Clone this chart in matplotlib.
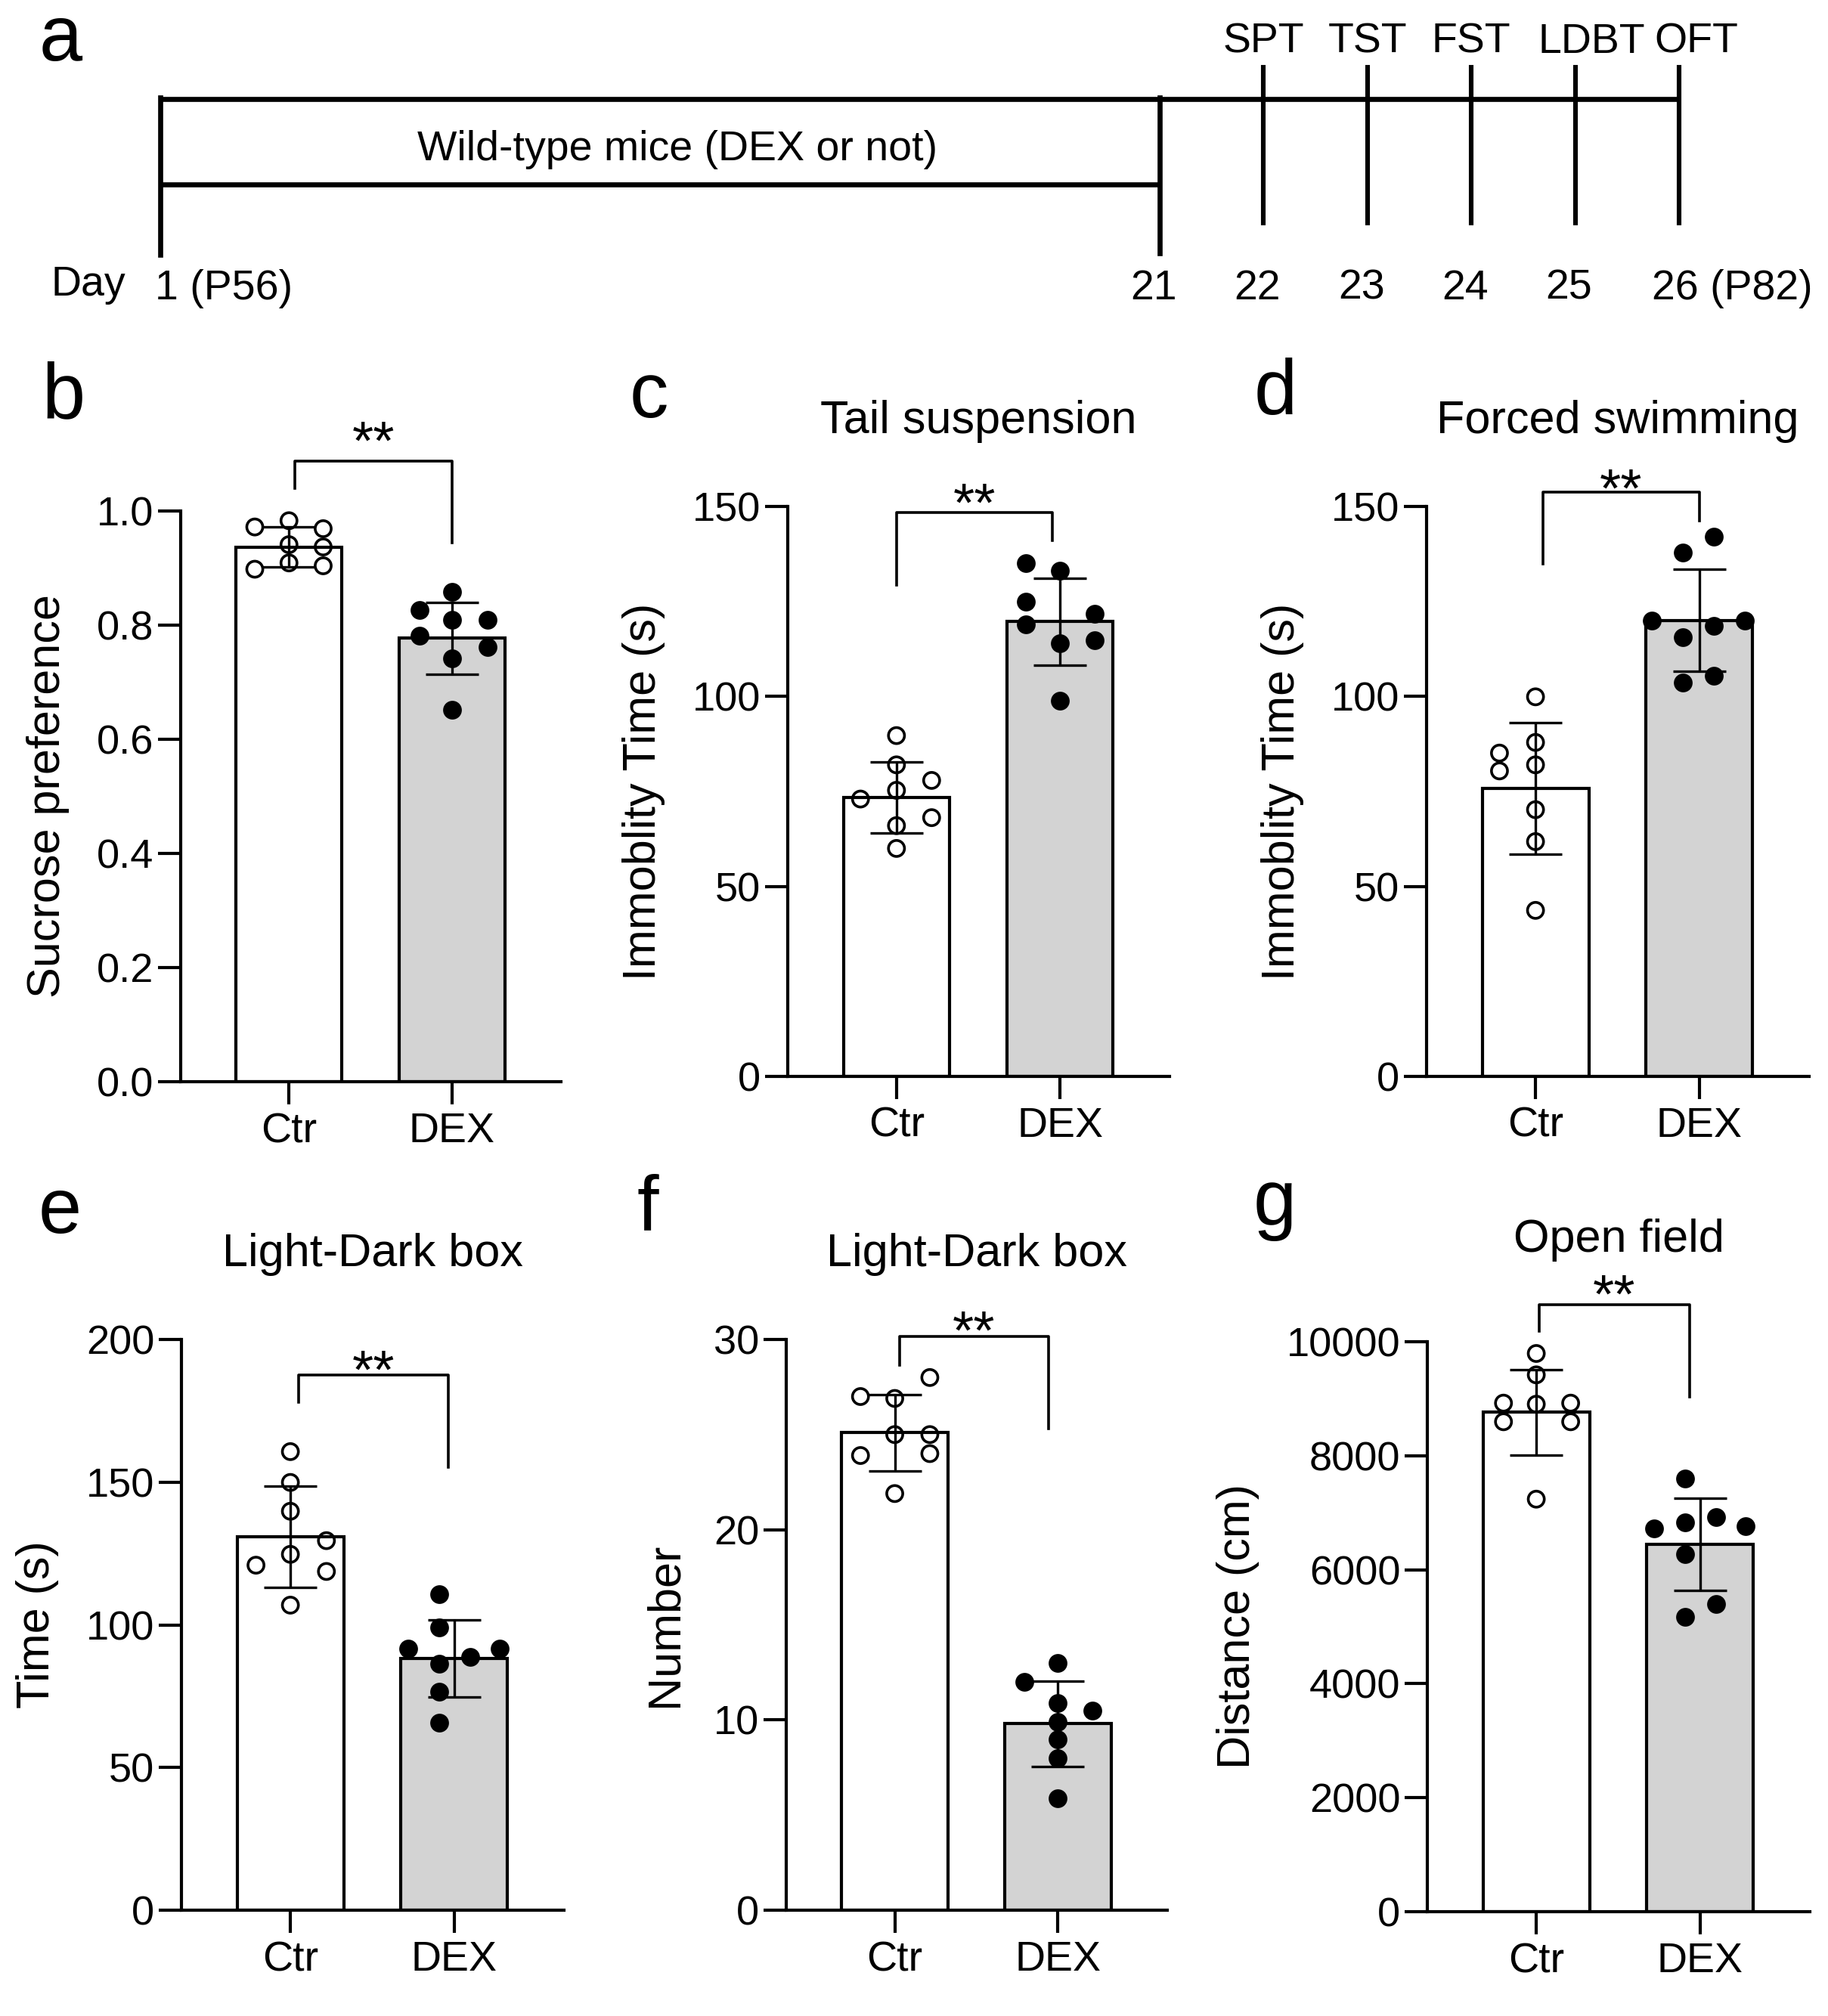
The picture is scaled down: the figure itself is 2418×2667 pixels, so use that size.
import numpy as np
import matplotlib
matplotlib.use("Agg")
import matplotlib.pyplot as plt

plt.rcParams['font.family'] = ['Liberation Sans', 'DejaVu Sans']

groups = ["Ctr", "DEX"]

# b  sucrose preference test
spt_ctr = [0.972, 0.983, 0.969, 0.941, 0.937, 0.898, 0.909, 0.904]
spt_dex = [0.858, 0.827, 0.809, 0.809, 0.782, 0.762, 0.742, 0.651]
spt_mean = [0.937, 0.777]
spt_sd = [0.035, 0.063]

# c  tail suspension
tst_ctr = [89.7, 82.0, 77.9, 73.0, 75.3, 68.1, 66.0, 60.0]
tst_dex = [135.1, 133.0, 125.0, 119.0, 121.8, 114.8, 113.9, 98.8]
tst_mean = [73.4, 119.7]
tst_sd = [9.4, 11.5]

# d  forced swimming
fst_ctr = [99.9, 85.1, 87.9, 80.4, 82.0, 70.2, 61.8, 43.7]
fst_dex = [142.0, 137.9, 120.0, 120.0, 118.6, 115.5, 103.7, 105.5]
fst_mean = [75.8, 120.0]
fst_sd = [17.4, 13.4]

# e  light-dark box, time
ldt_ctr = [160.7, 149.9, 139.8, 129.5, 124.7, 120.9, 118.7, 106.9]
ldt_dex = [110.8, 99.1, 91.6, 91.6, 88.8, 86.4, 76.6, 65.8]
ldt_mean = [130.8, 88.2]
ldt_sd = [17.7, 13.5]

# f  light-dark box, number
ldn_ctr = [28.0, 27.0, 26.9, 25.0, 25.0, 23.9, 24.0, 21.9]
ldn_dex = [13.0, 12.0, 10.5, 10.9, 9.9, 9.0, 8.0, 5.9]
ldn_mean = [25.1, 9.8]
ldn_sd = [2.0, 2.25]

# g  open field
oft_ctr = [9794, 9419, 8923, 8923, 8904, 8596, 8596, 7238]
oft_dex = [7594, 6723, 6835, 6929, 6770, 6273, 5393, 5178]
oft_mean = [8764, 6442]
oft_sd = [750, 810]

# timeline
test_names = ["SPT", "TST", "FST", "LDBT", "OFT"]
test_days = [22, 23, 24, 25, 26]

W, H = 2418, 2667
DPI = 200
fig = plt.figure(figsize=(W / DPI, H / DPI), dpi=DPI)


def px_rect(left, right, top, bottom):
    return [left / W, 1 - bottom / H, (right - left) / W, (bottom - top) / H]


def letter(x, y, s):
    fig.text(x / W, 1 - y / H, s, fontsize=37, ha="left", va="baseline")


# ---- panel a: timeline, drawn in pixel units ----
ax_a = fig.add_axes([0, 1 - 450 / H, 1, 450 / H])
ax_a.set_xlim(0, W)
ax_a.set_ylim(450, 0)
ax_a.axis("off")


def day_x(d):
    return np.interp(d, [1, 21, 26], [212, 1534, 2221])


x1, x21, x26 = day_x(1), day_x(21), day_x(26)
ax_a.plot([x1, x26], [131, 131], color="black", lw=2.4, solid_capstyle="butt")
ax_a.plot([x1, x21], [244, 244], color="black", lw=2.4, solid_capstyle="butt")
ax_a.plot([x1, x1], [129, 337], color="black", lw=2.4)
ax_a.plot([x21, x21], [129, 335], color="black", lw=2.4)
for d in test_days:
    ax_a.plot([day_x(d), day_x(d)], [89, 295], color="black", lw=2.2)
ax_a.text((x1 + x21) / 2 + 23, 212, "Wild-type mice (DEX or not)", fontsize=20,
          ha="center", va="baseline")
lab_shift = [0, 0, 0, 22, 23]
for name, d, sh in zip(test_names, test_days, lab_shift):
    ax_a.text(day_x(d) + sh, 70, name, fontsize=20, ha="center", va="baseline")
ax_a.text(68, 391, "Day", fontsize=20, ha="left", va="baseline")
ax_a.text(205, 396, "1 (P56)", fontsize=20, ha="left", va="baseline")
for d in [21, 22, 23, 24, 25]:
    ax_a.text(day_x(d) - 8, 396, str(d), fontsize=20, ha="center", va="baseline")
ax_a.text(day_x(26) - 36, 396, "26 (P82)", fontsize=20, ha="left", va="baseline")
letter(52, 80, "a")


# ---- bar panels ----
def bar_panel(rect, ctr, dex, mean, sd, dx_ctr, dx_dex, yticks, ylabel,
              title, bracket, tpad=35, fmt="{:d}"):
    ax = fig.add_axes(rect)
    x = np.arange(len(groups))
    ax.bar(x, mean, width=0.65, color=["white", "#d3d3d3"], edgecolor="black",
           linewidth=1.5, zorder=1)
    ax.scatter(x[0] + np.array(dx_ctr), ctr, s=58, facecolors="none",
               edgecolors="black", linewidths=1.3, zorder=3, clip_on=False)
    ax.scatter(x[1] + np.array(dx_dex), dex, s=58, facecolors="black",
               edgecolors="black", linewidths=1.3, zorder=3, clip_on=False)
    ax.errorbar(x, mean, yerr=sd, fmt="none", ecolor="black", elinewidth=1.2,
                capsize=12.5, capthick=1.2, zorder=4)

    ax.set_xlim(-0.665, 1.67)
    ax.set_ylim(0, yticks[-1])
    ax.set_xticks(x)
    ax.set_xticklabels(groups)
    ax.set_yticks(yticks)
    ax.set_yticklabels([fmt.format(t) for t in yticks])
    for s in ["top", "right"]:
        ax.spines[s].set_visible(False)
    for s in ["left", "bottom"]:
        ax.spines[s].set_linewidth(1.5)
    ax.tick_params(axis="both", length=10.8, width=1.5, direction="out")
    ax.tick_params(axis="y", labelsize=19.5, pad=2)
    ax.tick_params(axis="x", labelsize=20, pad=3.6)
    ax.set_ylabel(ylabel, fontsize=22, labelpad=13)
    if title:
        ax.set_title(title, fontsize=22, pad=tpad)

    bx0, bx1, yl, yt, yr, ys = bracket
    ax.plot([bx0, bx0, bx1, bx1], [yl, yt, yt, yr], color="black", lw=1.3,
            clip_on=False)
    ax.text((bx0 + bx1) / 2, ys, "**", fontsize=26, ha="center", va="baseline",
            clip_on=False)
    return ax


bar_panel(px_rect(239, 742, 676, 1431), spt_ctr, spt_dex, spt_mean, spt_sd,
          [-0.21, 0, 0.21, 0, 0.21, -0.21, 0, 0.21],
          [0, -0.2, 0, 0.22, -0.2, 0.22, 0, 0],
          [0.0, 0.2, 0.4, 0.6, 0.8, 1.0], "Sucrose preference", None,
          (0.037, 1.0, 1.040, 1.087, 0.944, 1.090), fmt="{:.1f}")
letter(55, 552, "b")

bar_panel(px_rect(1042, 1547, 670, 1424), tst_ctr, tst_dex, tst_mean, tst_sd,
          [0, 0, 0.215, -0.22, 0, 0.215, 0, 0],
          [-0.21, 0, -0.21, -0.21, 0.21, 0.21, 0, 0],
          [0, 50, 100, 150], "Immoblity Time (s)", "Tail suspension",
          (0.0, 0.954, 129.3, 148.4, 141.0, 146.2))
letter(833, 552, "c")

bar_panel(px_rect(1887, 2393, 670, 1424), fst_ctr, fst_dex, fst_mean, fst_sd,
          [0, -0.22, 0, -0.22, 0, 0, 0, 0],
          [0.09, -0.1, -0.29, 0.28, 0.09, -0.1, -0.1, 0.09],
          [0, 50, 100, 150], "Immoblity Time (s)", "Forced swimming",
          (0.044, 1.0, 134.9, 153.8, 146.2, 149.8))
letter(1659, 548, "d")

bar_panel(px_rect(240, 746, 1772, 2527), ldt_ctr, ldt_dex, ldt_mean, ldt_sd,
          [0, 0, 0, 0.22, 0, -0.21, 0.22, 0],
          [-0.09, -0.09, -0.28, 0.28, 0.1, -0.09, -0.09, -0.09],
          [0, 50, 100, 150, 200], "Time (s)", "Light-Dark box",
          (0.051, 0.963, 178.0, 187.5, 155.2, 183.0))
letter(51, 1631, "e")

bar_panel(px_rect(1040, 1544, 1772, 2527), ldn_ctr, ldn_dex, ldn_mean, ldn_sd,
          [0.215, -0.21, 0, 0, 0.215, -0.21, 0.215, 0],
          [0, -0.205, 0.21, 0, 0, 0, 0, 0],
          [0, 10, 20, 30], "Number", "Light-Dark box",
          (0.028, 0.944, 28.65, 30.15, 25.3, 29.52))
letter(843, 1627, "f")

bar_panel(px_rect(1888, 2394, 1775, 2529), oft_ctr, oft_dex, oft_mean, oft_sd,
          [0, 0, -0.2, 0.21, 0, -0.2, 0.21, 0],
          [-0.09, -0.28, -0.09, 0.1, 0.28, -0.09, 0.1, -0.09],
          [0, 2000, 4000, 6000, 8000, 10000], "Distance (cm)", "Open field",
          (0.017, 0.934, 10186, 10650, 9032, 10504), tpad=43)
letter(1658, 1620, "g")

fig.savefig("out.png", dpi=DPI)
